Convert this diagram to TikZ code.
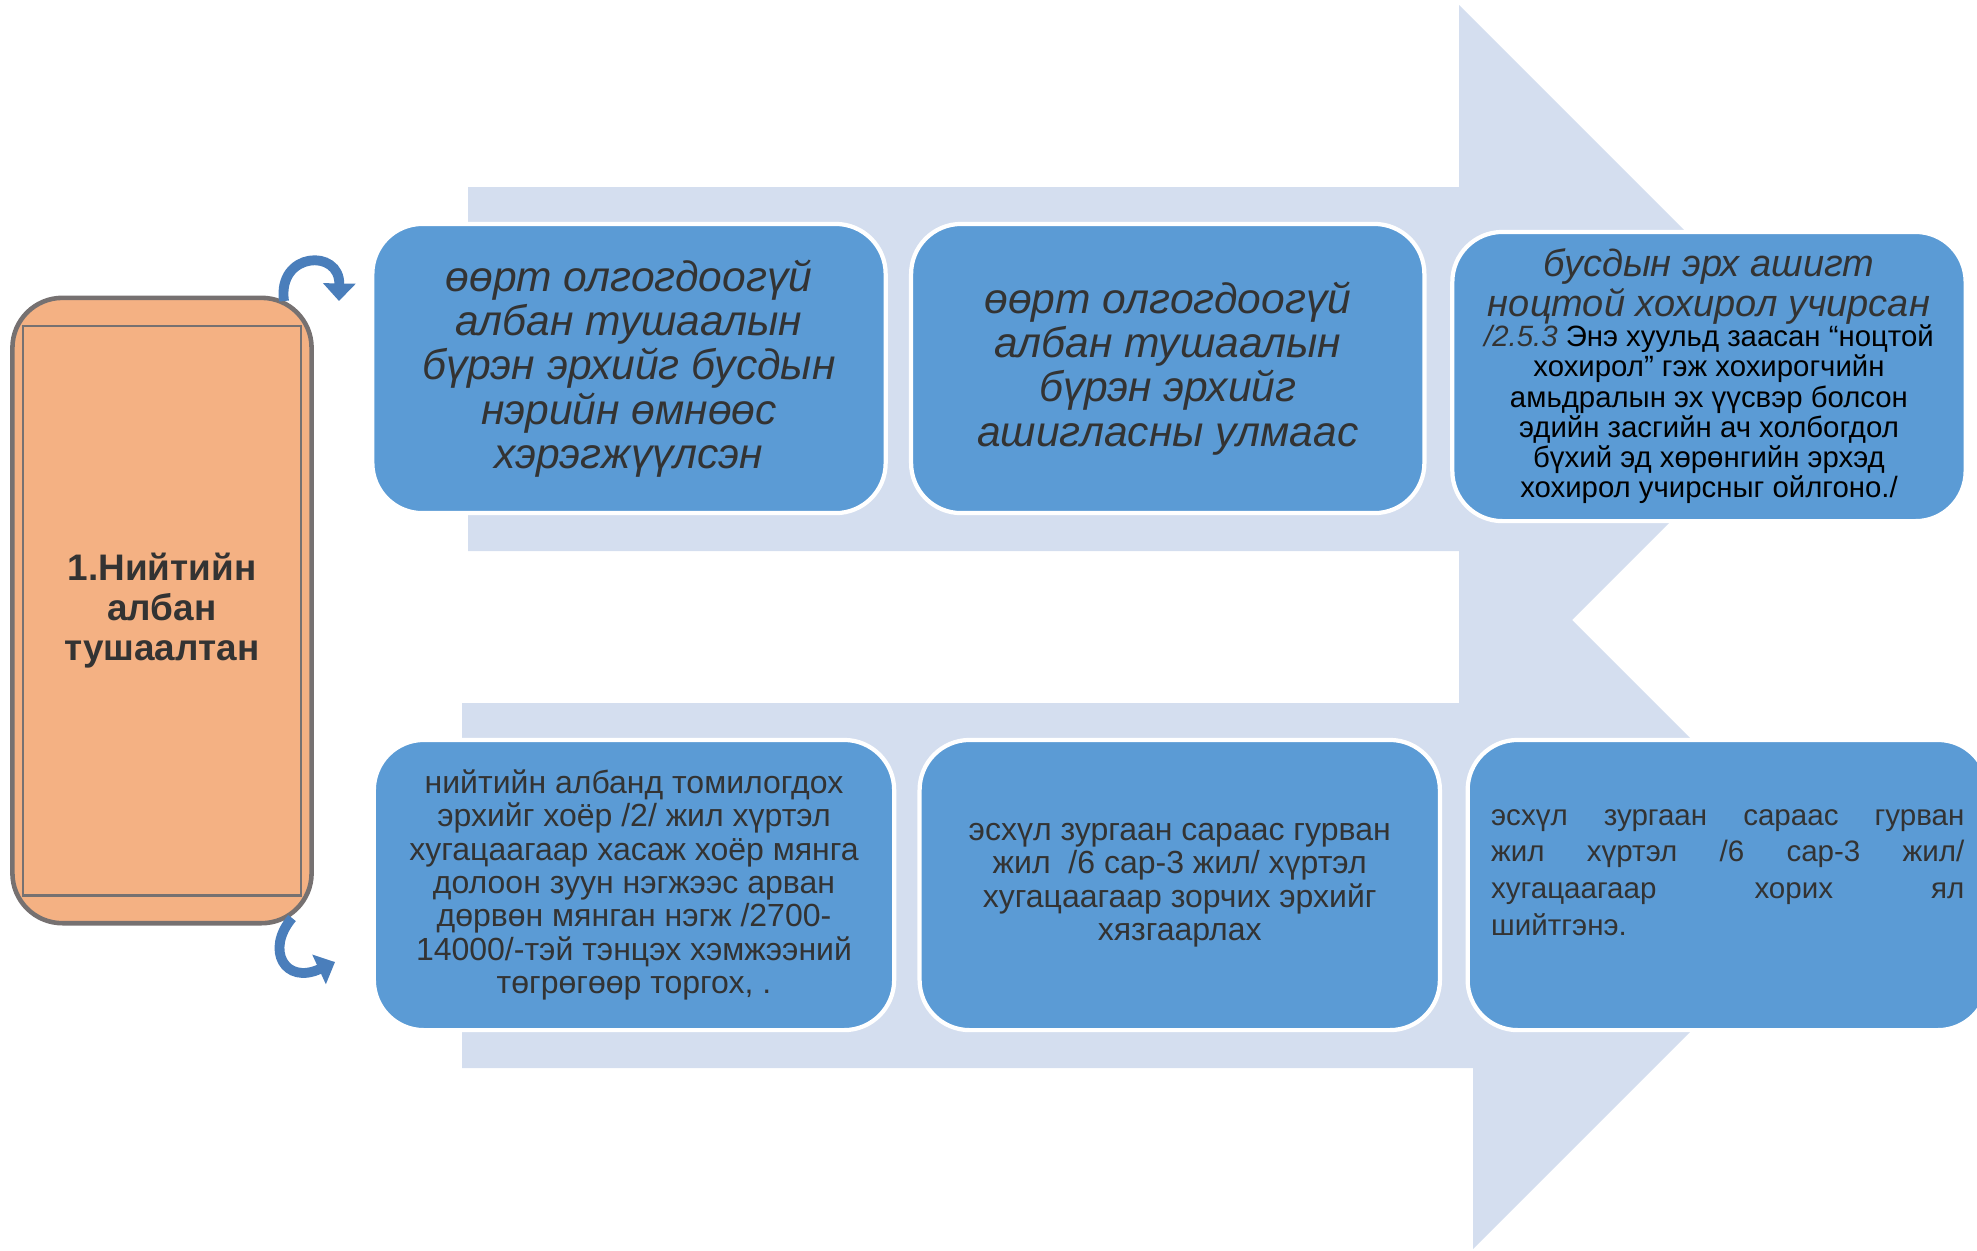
\documentclass[tikz,border=0pt]{standalone}
\usepackage{fontspec}
\setmainfont{Liberation Sans}
\usetikzlibrary{arrows.meta, positioning}
\definecolor{boxblue}{HTML}{5B9BD5}
\definecolor{palearrow}{HTML}{D4DEEF}
\definecolor{peach}{HTML}{F4B183}
\definecolor{edgegray}{HTML}{767171}
\definecolor{textgray}{HTML}{333333}
\definecolor{curlblue}{HTML}{4A7EBB}
\newcommand{\titlefont}{\fontsize{10.5}{11.3}\selectfont\bfseries}
\newcommand{\bigit}{\fontsize{12.1}{12.6}\selectfont\itshape}
\newcommand{\midit}{\fontsize{10.8}{10.8}\selectfont\itshape}
\newcommand{\smalltxt}{\fontsize{8.35}{8.6}\selectfont}
\newcommand{\bodytxt}{\fontsize{9.1}{9.5}\selectfont}
\newcommand{\widetxt}{\fontsize{8.4}{10.4}\selectfont}

\begin{document}
\begin{tikzpicture}[
  x=0.01cm, y=-0.01cm,
  bigarrow/.style={fill=palearrow, draw=none},
  official/.style={rectangle, rounded corners=0.5cm, draw=edgegray, line width=1.3pt, fill=peach, minimum width=2.99cm, minimum height=6.25cm, align=center, font=\titlefont, text=textgray},
  toprow/.style={rectangle, rounded corners=0.5cm, draw=white, line width=1.2pt, fill=boxblue, minimum width=5.13cm, minimum height=2.89cm, align=center, text=textgray},
  botrow/.style={toprow, minimum width=5.2cm, minimum height=2.9cm, font=\bodytxt},
  curl/.style={curlblue, line width=2.8pt, -{Triangle[width=9pt,length=5pt]}},
]
\useasboundingbox (0,0) rectangle (1977,1250);
\clip (0,0) rectangle (1977,1250);

% background arrows
\fill[bigarrow] (462,703) -- (1473,703) -- (1473,521) -- (1837,885) -- (1473,1249) -- (1473,1068) -- (462,1068) -- cycle;
\fill[bigarrow] (468,187) -- (1459,187) -- (1459,5) -- (1823,369) -- (1459,733) -- (1459,551) -- (468,551) -- cycle;

\node[official] (title) at (162,610.5) {1.Нийтийн\\албан\\тушаалтан};
\draw[edgegray, line width=0.6pt] ([shift={(0.13cm,-0.3cm)}]title.north west) rectangle ([shift={(-0.13cm,0.3cm)}]title.south east);

% top row
\node[toprow, font=\bigit] (b1) at (629,368.5) {өөрт олгогдоогүй\\албан тушаалын\\бүрэн эрхийг бусдын\\нэрийн өмнөөс\\хэрэгжүүлсэн};
\node[toprow, font=\bigit, right=0.212cm of b1] (b2) {өөрт олгогдоогүй\\албан тушаалын\\бүрэн эрхийг\\ашигласны улмаас};
\node[toprow, font=\smalltxt, text=black, right=0.237cm of b2, yshift=-0.08cm] (b3) {{\midit\color{textgray}бусдын эрх ашигт}\\{\midit\color{textgray}ноцтой хохирол учирсан}\\{\itshape\color{textgray}/2.5.3} Энэ хуульд заасан “ноцтой\\хохирол” гэж хохирогчийн\\амьдралын эх үүсвэр болсон\\эдийн засгийн ач холбогдол\\бүхий эд хөрөнгийн эрхэд\\хохирол учирсныг ойлгоно./};

% bottom row
\node[botrow] (b4) at (634,885) {нийтийн албанд томилогдох\\эрхийг хоёр /2/ жил хүртэл\\хугацаагаар хасаж хоёр мянга\\долоон зуун нэгжээс арван\\дөрвөн мянган нэгж /2700-\\14000/-тэй тэнцэх хэмжээний\\төгрөгөөр торгох, .};
\node[botrow, right=0.212cm of b4] (b5) {эсхүл зургаан сараас гурван\\жил~ /6 сар-3 жил/ хүртэл\\хугацаагаар зорчих эрхийг\\хязгаарлах};
\node[botrow, font=\widetxt, align=left, right=0.235cm of b5] (b6) {\makebox[4.73cm][s]{эсхүл зургаан сараас гурван}\\\makebox[4.73cm][s]{жил хүртэл /6 сар-3 жил/}\\\makebox[4.73cm][s]{хугацаагаар хорих ял}\\шийтгэнэ.\\[-0.11cm]\mbox{}};

% curved arrows
\coordinate (uptip) at (339,301);
\coordinate (downtip) at (335,962);
\draw[curl] (284,301) .. controls (277,252) and (340,248) .. (uptip);
\draw[curl] (292,918) .. controls (265,950) and (285,985) .. (downtip);

\end{tikzpicture}
\end{document}
